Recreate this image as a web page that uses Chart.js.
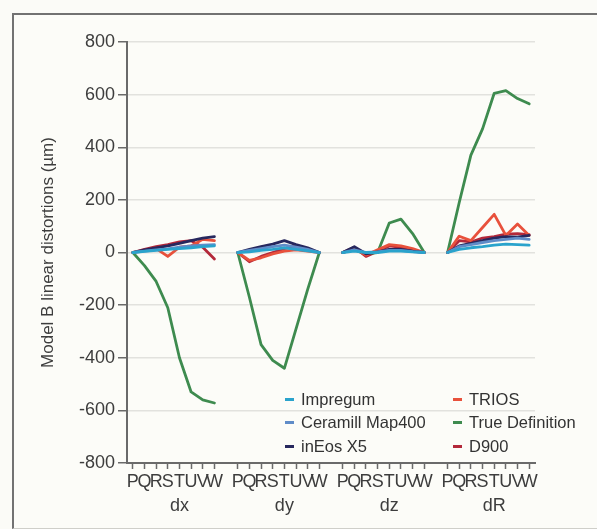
<!DOCTYPE html>
<html>
<head>
<meta charset="utf-8">
<script src="https://cdn.jsdelivr.net/npm/chart.js@4"></script>
<style>
  html, body { margin: 0; padding: 0; background: #fbfbf7; }
  #wrap { position: relative; width: 597px; height: 529px; overflow: hidden; font-family: "Liberation Sans", Arial, sans-serif; }
  #frame { position: absolute; left: 12px; top: 13px; width: 600px; height: 513px; border-left: 2px solid #727272; border-top: 2px solid #727272; border-bottom: 1px solid #cfcfca; background: #fcfcf8; }
  #chart { position: absolute; left: 0; top: 0; }
  .lg { position: absolute; font-size: 16.5px; line-height: 20px; color: #333; white-space: nowrap; }
  .lg i { position: absolute; left: -16px; top: 9px; width: 9px; height: 3px; }
</style>
</head>
<body>
<div id="wrap">
  <div id="frame"></div>
  <canvas id="chart" width="597" height="529"></canvas>
  <div id="legend"></div>
</div>
<script>
// categories
const points = ['P', 'Q', 'R', 'S', 'T', 'U', 'V', 'W'];
const groups = ['dx', 'dy', 'dz', 'dR'];

// values per group (dx, dy, dz, dR), µm
const impregum = [
    [0, 4, 8, 12, 15, 18, 22, 25],
    [0, 2, 8, 12, 18, 12, 6, 0],
    [0, 5, 0, 0, 5, 5, 2, 0],
    [0, 12, 18, 22, 28, 32, 30, 28]
];
const ceramill = [
    [0, 5, 10, 14, 20, 25, 28, 30],
    [0, 8, 15, 22, 28, 20, 12, 0],
    [0, 10, 0, 2, 8, 8, 3, 0],
    [0, 22, 30, 38, 45, 50, 55, 50]
];
const ineos = [
    [0, 10, 18, 25, 35, 45, 55, 60],
    [0, 12, 22, 32, 45, 30, 18, 0],
    [0, 22, -5, 2, 12, 12, 5, 0],
    [0, 25, 35, 45, 55, 60, 58, 65]
];
const trios = [
    [0, 8, 15, -15, 20, 25, 50, 45],
    [0, -30, -20, -5, 5, 10, 5, 0],
    [0, 15, -10, 10, 30, 25, 15, 0],
    [0, 62, 45, 95, 145, 65, 108, 65]
];
const trueDef = [
    [0, -50, -110, -210, -400, -530, -560, -572],
    [0, -170, -350, -410, -440, -290, -140, 0],
    [0, 10, -5, 0, 112, 127, 72, 0],
    [0, 190, 370, 470, 605, 615, 585, 565]
];
const d900 = [
    [0, 12, 22, 30, 40, 45, 20, -25],
    [0, -35, -15, 0, 15, 25, 10, 0],
    [0, 20, -15, 5, 25, 20, 10, 0],
    [0, 45, 40, 55, 60, 70, 72, 68]
];

const yTicks = [-800, -600, -400, -200, 0, 200, 400, 600, 800];

const seriesNames = ['Impregum', 'Ceramill Map400', 'inEos X5', 'TRIOS', 'True Definition', 'D900'];
const seriesData = [impregum, ceramill, ineos, trios, trueDef, d900];
const seriesColors = ['#2aa3cc', '#5f8cc8', '#27285e', '#e8513c', '#3e8b4f', '#b3283a'];

// one blank category between groups, group name under T
const labels = [];
groups.forEach((g, gi) => {
    if (gi > 0) labels.push('');
    points.forEach((p, pi) => labels.push(pi === 4 ? [p, g] : p));
});

function flatten(perGroup) {
    const out = [];
    perGroup.forEach((arr, gi) => {
        if (gi > 0) out.push(null);
        out.push(...arr);
    });
    return out;
}

const datasets = seriesNames.map((name, i) => ({
    label: name,
    data: flatten(seriesData[i]),
    borderColor: seriesColors[i],
    backgroundColor: seriesColors[i],
    spanGaps: false,
    fill: false
}));

new Chart(document.getElementById('chart'), {
    type: 'line',
    data: { labels, datasets },
    options: {
        responsive: false,
        animation: false,
        layout: { padding: { top: 42, right: 62, bottom: 0, left: 0 } },
        plugins: { legend: { display: false }, tooltip: { enabled: false } },
        elements: {
            point: { radius: 0 },
            line: { borderWidth: 2.8, tension: 0, borderJoinStyle: 'round', borderCapStyle: 'round' }
        },
        scales: {
            x: {
                type: 'category',
                offset: true,
                grid: {
                    offset: false,
                    drawOnChartArea: false,
                    tickLength: 6,
                    tickWidth: 1.5,
                    tickColor: c => labels[c.index] === '' ? 'rgba(0,0,0,0)' : '#6a6a6a'
                },
                border: { color: '#6a6a6a', width: 2 },
                ticks: { autoSkip: false, maxRotation: 0, padding: 1, color: '#3d3d3d', font: { size: 18, lineHeight: 1.35 } },
                afterFit: s => { s.height = 66; }
            },
            y: {
                min: -800,
                max: 800,
                afterBuildTicks: s => { s.ticks = yTicks.map(v => ({ value: v })); },
                ticks: { padding: 3, color: '#3d3d3d', font: { size: 18 } },
                grid: { color: '#e2e2de', lineWidth: 1.5, tickLength: 9, tickColor: '#6a6a6a', tickWidth: 1.5 },
                border: { color: '#6a6a6a', width: 2 },
                title: {
                    display: true,
                    text: 'Model B linear distortions (µm)',
                    color: '#3d3d3d',
                    font: { size: 17 },
                    padding: { top: 38, bottom: 0 }
                },
                afterFit: s => { s.width = 127; }
            }
        }
    }
});

// legend, two columns inside the plot
const legendCols = [301, 469];
const legendRows = [389, 412, 436];
const legendEl = document.getElementById('legend');
seriesNames.forEach((name, i) => {
    const d = document.createElement('div');
    d.className = 'lg';
    d.style.left = legendCols[Math.floor(i / 3)] + 'px';
    d.style.top = legendRows[i % 3] + 'px';
    d.innerHTML = '<i style="background:' + seriesColors[i] + '"></i>' + name;
    legendEl.appendChild(d);
});
</script>
</body>
</html>
